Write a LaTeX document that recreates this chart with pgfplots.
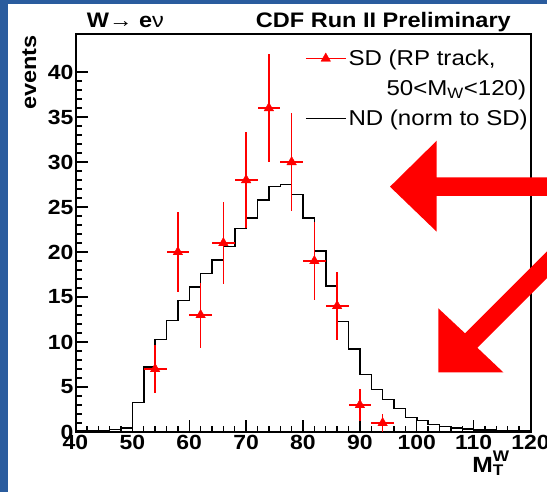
\documentclass[border=0pt]{standalone}
\usepackage{fontspec}
\setmainfont{Liberation Sans}[FakeStretch=1.12]
\usepackage{pgfplots}
\pgfplotsset{compat=1.18}
\definecolor{slideblue}{RGB}{42,92,158}

\begin{document}
\begin{tikzpicture}
\useasboundingbox (0,0) rectangle (547bp,492bp);
\fill[slideblue] (0,0) rectangle (547bp,492bp);
\fill[white] (8bp,0) rectangle (547bp,488bp);

\begin{axis}[at={(75.5bp,60bp)}, anchor=south west, scale only axis,
  width=455bp, height=397.7bp, xmin=40, xmax=120, ymin=0, ymax=44.2,
  xtick={40,50,...,120}, ytick={0,5,...,40}, minor x tick num=4, minor y tick num=4,
  tick align=inside, xtick pos=bottom, ytick pos=left,
  major tick length=12bp, minor tick length=6bp,
  tick style={black, line width=1.3bp}, axis line style={line width=2bp},
  ticklabel style={font=\bfseries\fontsize{20.5bp}{20bp}\selectfont},
  yticklabel style={inner xsep=2bp},
  /pgf/number format/assume math mode=true,
  legend style={at={(axis description cs:0.504,0.966)}, anchor=north west, draw=none, fill=none,
    font=\fontsize{21.5bp}{22bp}\selectfont, row sep=9bp, inner sep=0pt},
  legend cell align=left,
  legend image code/.code={\draw[#1] (0bp,0bp) -- (40bp,0bp);}]

% ND, normalised to SD, 2 GeV bins
\addplot[const plot mark left, black, line width=1.5bp, forget plot] coordinates {
(40,0.1)(42,0.1)(44,0.15)(46,0.3)(48,0.45)(50,3.3)(52,7.2)(54,10.3)(56,12.4)(58,14.6)
(60,16.1)(62,17.6)(64,19.1)(66,20.6)(68,22.6)(70,23.8)(72,25.8)(74,27.3)(76,27.5)(78,26.4)
(80,23.8)(82,20.1)(84,16.2)(86,12.3)(88,9.2)(90,6.4)(92,4.7)(94,3.6)(96,2.6)(98,1.6)
(100,1.3)(102,0.85)(104,0.6)(106,0.45)(108,0.35)(110,0.25)(112,0.2)(114,0.15)(116,0.1)(118,0.1)(120,0.1)};

% SD events
\addplot[only marks, red, mark=triangle*, mark size=5.5bp, forget plot,
  error bars/.cd, x dir=both, x explicit, y dir=both, y explicit,
  error bar style={red, line width=1.5bp}, error mark=none]
  table[x=x, y=y, x error=ex, y error=ey] {
x  y  ex ey
54 7  2  2.65
58 20 2  4.47
62 13 2  3.61
66 21 2  4.58
70 28 2  5.29
74 36 2  6.00
78 30 2  5.48
82 19 2  4.36
86 14 2  3.74
90 3  2  1.73
94 1  2  1.00
};

\addlegendimage{legend image code/.code={\draw[red, line width=1.5bp] (0bp,0bp) -- (40bp,0bp);
  \fill[red] (20bp,0bp) +(90:5.5bp) -- +(210:5.5bp) -- +(330:5.5bp) -- cycle;}}
\addlegendentry{SD (RP track,}
\addlegendimage{empty legend}
\addlegendentry{\hspace*{38bp}50<M\textsubscript{W}<120)}
\addlegendimage{black, line width=1.5bp}
\addlegendentry{ND (norm to SD)}
\end{axis}

% annotation arrows
\fill[red] (390bp,305.3bp) -- (436.7bp,351.3bp) -- (436.7bp,314.7bp) -- (560bp,314.7bp)
  -- (560bp,296bp) -- (436.7bp,296bp) -- (436.7bp,260.3bp) -- cycle;
\fill[red] (438.3bp,119.7bp) -- (438.3bp,183.7bp) -- (465bp,158.7bp) -- (600bp,293.7bp)
  -- (600bp,267bp) -- (477.3bp,144.3bp) -- (503.3bp,119.7bp) -- cycle;

\node[anchor=base west, inner sep=0pt, font=\fontsize{21bp}{22bp}\selectfont] at (86.7bp,464bp)
  {\textbf{W}→ \textbf{e}ν};
\node[anchor=base east, inner sep=0pt, font=\bfseries\fontsize{21bp}{22bp}\selectfont] at (511bp,464bp)
  {CDF Run II Preliminary};
\node[rotate=90, anchor=base east, inner sep=0pt, font=\bfseries\fontsize{21bp}{22bp}\selectfont]
  at (36bp,457bp) {events};
\node[anchor=base east, inner sep=0pt, font=\bfseries\fontsize{22bp}{22bp}\selectfont] at (514bp,20bp)
  {M\rlap{\raisebox{3bp}{\textsuperscript{W}}}\textsubscript{T}\hspace*{0.45em}};
\end{tikzpicture}
\end{document}
